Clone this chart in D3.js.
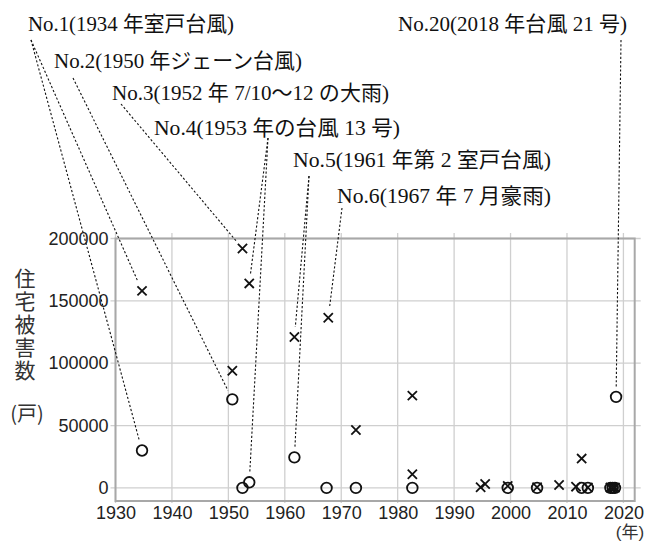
<!DOCTYPE html>
<html><head><meta charset="utf-8">
<script src="https://cdn.jsdelivr.net/npm/d3@7"></script>
<style>body{margin:0;background:#fff}</style>
</head><body>
<svg id="c" width="648" height="542"></svg>
<script>
// ---- data ----
const xTicks = [1930,1940,1950,1960,1970,1980,1990,2000,2010,2020];
const yTicks = [0,50000,100000,150000,200000];
const crossYears  = [1934.7,1950.7,1952.5,1953.7,1961.7,1967.7,1972.6,1982.6,1982.6,1994.7,1995.5,1999.5,2004.7,2008.6,2011.6,2012.6,2013.7,2017.7,2018.1,2018.5];
const crossValues = [158000,94000,192000,164000,121000,136500,46500,74000,11000,500,3200,1500,500,2400,1000,23500,300,300,300,300];
const circleYears  = [1934.7,1950.7,1952.5,1953.7,1961.7,1967.4,1972.6,1982.6,1999.5,2004.7,2012.6,2013.7,2017.7,2018.1,2018.5,2018.7];
const circleValues = [30000,71000,0,4500,24500,0,0,0,0,0,0,0,0,0,0,73000];
const noteLabels = ["No.1(1934 年室戸台風)","No.2(1950 年ジェーン台風)","No.3(1952 年 7/10〜12 の大雨)","No.4(1953 年の台風 13 号)","No.5(1961 年第 2 室戸台風)","No.6(1967 年 7 月豪雨)","No.20(2018 年台風 21 号)"];
// which marks each note points at: [series, index]
const noteTargets = [[["x",0],["o",0]],[["o",1]],[["x",2]],[["x",3],["o",3]],[["x",4],["o",4]],[["x",5]],[["o",15]]];

// ---- layout ----
const noteLayout = [ // text x, baseline y, text length, leader start
  {x:28, y:31, w:206, sx:31, sy:40},
  {x:54, y:68, w:248, sx:73, sy:78},
  {x:112,y:100,w:277, sx:121,sy:104},
  {x:154,y:135,w:246, sx:268,sy:138},
  {x:293,y:167,w:258, sx:309,sy:176},
  {x:337,y:203,w:214, sx:342,sy:208},
  {x:398,y:31, w:229, sx:621,sy:40}
];
const L=115.5, R=634.7, T=238.5, B=501;
const svg = d3.select("#c");
const x = d3.scaleLinear().domain([1930,2022]).range([L,R]);
const y = d3.scaleLinear().domain([-10500,200000]).range([B,T]);

// gridlines
const g = svg.append("g");
g.selectAll("line.v").data(xTicks).join("line")
  .attr("x1",d=>x(d)).attr("x2",d=>x(d)).attr("y1",233).attr("y2",B+2)
  .attr("stroke","#cfcfcf").attr("stroke-width",1.3);
g.selectAll("line.h").data(yTicks).join("line")
  .attr("y1",d=>y(d)).attr("y2",d=>y(d)).attr("x1",L-5).attr("x2",R+6)
  .attr("stroke","#cfcfcf").attr("stroke-width",1.3);
// frame
svg.append("rect").attr("x",L).attr("y",T).attr("width",R-L).attr("height",B-T)
  .attr("fill","none").attr("stroke","#a8a8a8").attr("stroke-width",2);

// axes (labels)
const fontTick = "'Liberation Sans', Arial, sans-serif";
const ax = svg.append("g").attr("transform",`translate(0,${B})`)
  .call(d3.axisBottom(x).tickValues(xTicks).tickFormat(d3.format("d")).tickSize(0).tickPadding(5));
const ay = svg.append("g").attr("transform",`translate(${L},0)`)
  .call(d3.axisLeft(y).tickValues(yTicks).tickFormat(d3.format("d")).tickSize(0).tickPadding(7));
[ax,ay].forEach(a=>{a.select(".domain").remove();
  a.selectAll("text").attr("font-family",fontTick).attr("font-size",18).attr("fill","#222");});

// axis titles
const fontJ = "'Noto Sans CJK JP', sans-serif";
svg.append("text").attr("x",25).attr("y",268).attr("font-family",fontJ).attr("font-size",21)
  .attr("fill","#333").attr("writing-mode","vertical-rl").style("text-orientation","upright")
  .attr("letter-spacing",2).text("住宅被害数");
svg.append("text").attr("x",27).attr("y",421).attr("font-family",fontJ).attr("font-size",20)
  .attr("fill","#333").attr("text-anchor","middle").text("(戸)");
svg.append("text").attr("x",630).attr("y",537.5).attr("font-family","'Liberation Sans', 'Noto Sans CJK JP', sans-serif")
  .attr("font-size",17).attr("fill","#333").attr("text-anchor","middle").text("(年)");

// marks
const crosses = crossYears.map((d,i)=>({yr:d,v:crossValues[i]}));
const circles = circleYears.map((d,i)=>({yr:d,v:circleValues[i]}));
svg.append("g").selectAll("circle").data(circles).join("circle")
  .attr("cx",d=>x(d.yr)).attr("cy",d=>y(d.v)).attr("r",5.3)
  .attr("fill","none").attr("stroke","#111").attr("stroke-width",1.8);
const s=4.6;
svg.append("g").selectAll("path").data(crosses).join("path")
  .attr("d",d=>{const cx=x(d.yr),cy=y(d.v);return `M${cx-s},${cy-s}L${cx+s},${cy+s}M${cx-s},${cy+s}L${cx+s},${cy-s}`;})
  .attr("stroke","#111").attr("stroke-width",1.8).attr("fill","none");

// annotations
const fontN = "'Liberation Serif', 'Times New Roman', 'Noto Sans CJK JP', serif";
noteLabels.forEach((t,i)=>{
  const lay = noteLayout[i];
  svg.append("text").attr("x",lay.x).attr("y",lay.y).attr("font-family",fontN).attr("font-size",21)
    .attr("fill","#111").attr("textLength",lay.w).attr("lengthAdjust","spacingAndGlyphs").text(t);
  noteTargets[i].forEach(([ser,idx])=>{
    const p = ser==="x"?crosses[idx]:circles[idx];
    const px=x(p.yr), py=y(p.v);
    const dx=lay.sx-px, dy=lay.sy-py, len=Math.hypot(dx,dy), gap=10;
    svg.append("line").attr("x1",lay.sx).attr("y1",lay.sy)
      .attr("x2",px+dx/len*gap).attr("y2",py+dy/len*gap)
      .attr("stroke","#111").attr("stroke-width",1.1).attr("stroke-dasharray","2.2,2");
  });
});
</script>
</body></html>
